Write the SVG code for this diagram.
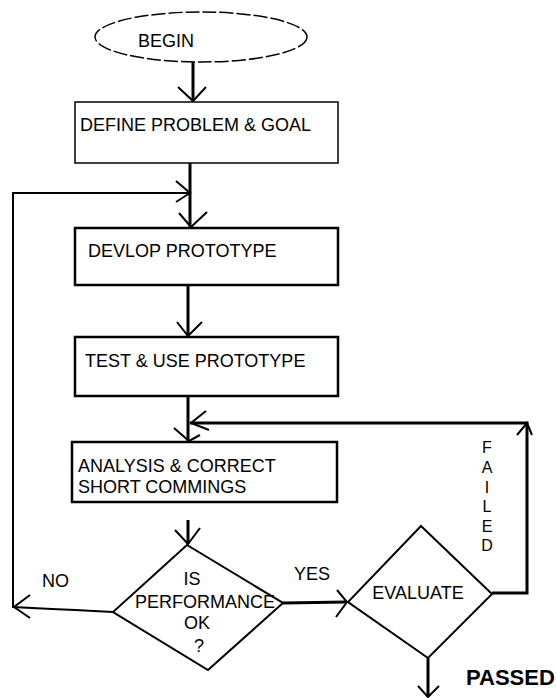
<svg xmlns="http://www.w3.org/2000/svg" width="556" height="698" viewBox="0 0 556 698">
<style>
.t{font-family:"Liberation Sans",Arial,sans-serif;font-size:18px;fill:#000}
.lbl{font-family:"Liberation Sans",Arial,sans-serif;font-size:18px;fill:#000}
.box{fill:#fff;stroke:#000}
.c{fill:none;stroke:#000;stroke-width:3}
.thin{fill:none;stroke:#000;stroke-width:2}
.ah{fill:none;stroke:#000;stroke-width:2}
.dia{fill:#fff;stroke:#000;stroke-width:2;stroke-linejoin:miter}
</style>
<rect width="556" height="698" fill="#fff"/>
<g id="begin">
<ellipse cx="201" cy="37" rx="106" ry="25" fill="#fff" stroke="#000" stroke-width="1.5" stroke-dasharray="14 3"/>
<text class="t" x="138" y="47">BEGIN</text>
</g>
<g id="define">
<rect class="box" x="75" y="102" width="263" height="61" stroke-width="1.5"/>
<text class="t" x="80" y="131">DEFINE PROBLEM &amp; GOAL</text>
</g>
<g id="develop">
<rect class="box" x="75" y="228" width="263" height="57" stroke-width="2.5"/>
<text class="t" x="88" y="257">DEVLOP PROTOTYPE</text>
</g>
<g id="test">
<rect class="box" x="75" y="337" width="263" height="59" stroke-width="2.5"/>
<text class="t" x="85" y="367">TEST &amp; USE PROTOTYPE</text>
</g>
<g id="analysis">
<rect class="box" x="72" y="442" width="265" height="60" stroke-width="2.5"/>
<text class="t" x="78" y="472">ANALYSIS &amp; CORRECT</text>
<text class="t" x="78" y="493">SHORT COMMINGS</text>
</g>
<g id="decision">
<polygon class="dia" points="187,545 283,603 208,670 113,612"/>
<text class="t" x="192" y="585" text-anchor="middle">IS</text>
<text class="t" x="205" y="608" text-anchor="middle">PERFORMANCE</text>
<text class="t" x="197" y="629" text-anchor="middle">OK</text>
<text class="t" x="199" y="652" text-anchor="middle">?</text>
</g>
<g id="evaluate">
<polygon class="dia" points="421,526 492,594 428,658 348,602"/>
<text class="t" x="418" y="599" text-anchor="middle">EVALUATE</text>
</g>
<g id="connectors">
<line class="c" x1="193" y1="62" x2="193" y2="101"/>
<polyline class="ah" points="178,87 193,101 206,87"/>
<line class="c" x1="190" y1="163" x2="190" y2="228"/>
<polyline class="ah" points="176,181 190,193 176,202"/>
<polyline class="ah" points="179,213 191,227 207,212"/>
<line class="c" x1="188" y1="285" x2="188" y2="337"/>
<polyline class="ah" points="177,322 188,336 202,322"/>
<line class="c" x1="188" y1="396" x2="188" y2="442"/>
<polyline class="ah" points="174,428 189,441 200,435"/>
<polyline class="ah" points="206,411 191,423 209,430"/>
<polyline class="c" points="492,593 527,593 527,423 190,423"/>
<polyline class="ah" points="517,435 527,423 532,435"/>
<line class="c" x1="188" y1="520" x2="188" y2="544"/>
<polyline class="ah" points="175,530 188,544 200,528"/>
<polyline class="thin" points="113,612 75,610 52,609 13,607 13,193 190,193"/>
<polyline class="ah" points="30,595 14,607 30,618"/>
<text class="lbl" x="42" y="587">NO</text>
<line class="c" x1="283" y1="603" x2="347" y2="602"/>
<polyline class="ah" points="337,590 347,602 336,617"/>
<text class="lbl" x="294" y="580">YES</text>
<g class="lbl" style="font-size:16px" text-anchor="middle">
<text x="487" y="453">F</text>
<text x="487" y="473">A</text>
<text x="487" y="493">I</text>
<text x="487" y="512">L</text>
<text x="487" y="532">E</text>
<text x="487" y="551">D</text>
</g>
<line class="c" x1="428" y1="658" x2="428" y2="697"/>
<polyline class="ah" points="418,686 428,697 439,686"/>
<text class="lbl" x="466" y="685" style="font-size:22px;font-weight:bold">PASSED</text>
</g>
</svg>
